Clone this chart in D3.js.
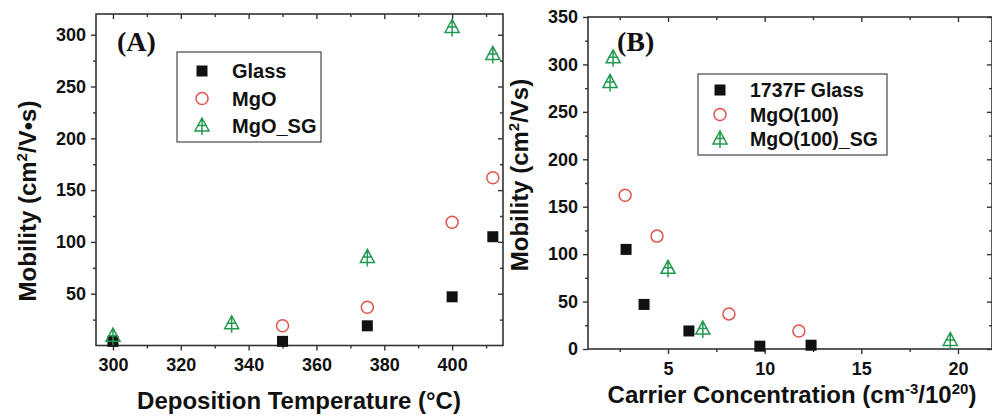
<!DOCTYPE html>
<html><head><meta charset="utf-8">
<script src="https://cdn.jsdelivr.net/npm/d3@7"></script>
<style>
body{margin:0;background:#fff;}
svg{display:block;font-family:"Liberation Sans",Arial,sans-serif;font-weight:bold;}
</style></head>
<body><svg id="c" width="992" height="416"></svg>
<script>
// ---- Panel A data: Deposition temperature (°C) vs mobility
const tempGlass = [300, 350, 375, 400, 412];
const mobGlassA = [4, 4, 19, 47, 105];
const tempMgO = [350, 375, 400, 412];
const mobMgOA = [19, 37, 119, 162];
const tempSG = [300, 335, 375, 400, 412];
const mobSGA = [9, 21, 85, 307, 281];
const legendA = ["Glass", "MgO", "MgO_SG"];
const xTicksA = [300, 320, 340, 360, 380, 400];
const xMinorA = [310, 330, 350, 370, 390, 410];
const yTicksA = [50, 100, 150, 200, 250, 300];
const yMinorA = [25, 75, 125, 175, 225, 275];

// ---- Panel B data: Carrier concentration (cm^-3/1e20) vs mobility
const ccGlass = [2.83, 3.76, 6.08, 9.75, 12.4];
const mobGlassB = [105, 47, 19, 3, 4];
const ccMgO = [2.78, 4.43, 8.15, 11.77];
const mobMgOB = [162, 119, 37, 19];
const ccSG = [2.0, 2.16, 5.0, 6.8, 19.6];
const mobSGB = [281, 307, 85, 21, 9];
const legendB = ["1737F Glass", "MgO(100)", "MgO(100)_SG"];
const xTicksB = [5, 10, 15, 20];
const xMinorB = [2.5, 7.5, 12.5, 17.5];
const yTicksB = [0, 50, 100, 150, 200, 250, 300, 350];
const yMinorB = [25, 75, 125, 175, 225, 275, 325];

const RED = "#e0544c", GREEN = "#23994f", AXIS = "#333";
const svg = d3.select("#c");

function triPath(){ return "M0,-8L7,5L-7,5Z M0,-8L0,9 M-5,-0.5L5,-0.5"; }

function marker(g, type, x, y){
  if(type===0){
    g.append("rect").attr("x",x-5.5).attr("y",y-5.5).attr("width",11).attr("height",11).attr("fill","#111");
  } else if(type===1){
    g.append("circle").attr("cx",x).attr("cy",y).attr("r",6).attr("fill","none").attr("stroke",RED).attr("stroke-width",1.5);
  } else {
    g.append("path").attr("d",triPath()).attr("transform",`translate(${x},${y})`).attr("fill","none").attr("stroke",GREEN).attr("stroke-width",1.5);
  }
}

function addParts(t, parts){
  parts.forEach(p=>{
    const ts = t.append("tspan").text(p[0]);
    if(p[1]) ts.attr("dy", p[1]);
    ts.attr("font-size", p[2] ? 15 : 24);
  });
}

function panel(o){
  const x = d3.scaleLinear().domain(o.xd).range(o.xr);
  const y = d3.scaleLinear().domain(o.yd).range(o.yr);
  const g = svg.append("g");
  const [x0,x1] = o.xr, [y0,y1] = o.yr;
  g.append("rect").attr("x",x0).attr("y",y1).attr("width",x1-x0).attr("height",y0-y1)
    .attr("fill","none").attr("stroke",AXIS).attr("stroke-width",1.6);
  const styleAx = s => { s.select(".domain").remove(); s.selectAll("line").attr("stroke",AXIS).attr("stroke-width",1.4); s.selectAll("text").attr("font-size",18).attr("font-weight","bold").attr("fill","#111").attr("font-family","Liberation Sans, Arial, sans-serif"); };
  g.append("g").attr("transform",`translate(0,${y0})`).call(d3.axisBottom(x).tickValues(o.xt).tickSize(5).tickPadding(8).tickFormat(d3.format("d"))).call(styleAx);
  g.append("g").attr("transform",`translate(0,${y0})`).call(d3.axisBottom(x).tickValues(o.xm).tickSize(3).tickFormat("")).call(styleAx);
  g.append("g").attr("transform",`translate(0,${y1})`).call(d3.axisBottom(x).tickValues(o.xt).tickSize(5).tickFormat("")).call(styleAx);
  g.append("g").attr("transform",`translate(0,${y1})`).call(d3.axisBottom(x).tickValues(o.xm).tickSize(3).tickFormat("")).call(styleAx);
  g.append("g").attr("transform",`translate(${x0},0)`).call(d3.axisLeft(y).tickValues(o.yt).tickSize(5).tickPadding(5).tickFormat(d3.format("d"))).call(styleAx);
  g.append("g").attr("transform",`translate(${x0},0)`).call(d3.axisLeft(y).tickValues(o.ym).tickSize(3).tickFormat("")).call(styleAx);
  g.append("g").attr("transform",`translate(${x1},0)`).call(d3.axisLeft(y).tickValues(o.yt).tickSize(5).tickFormat("")).call(styleAx);
  g.append("g").attr("transform",`translate(${x1},0)`).call(d3.axisLeft(y).tickValues(o.ym).tickSize(3).tickFormat("")).call(styleAx);
  const dg = g.append("g");
  o.series.forEach((s,i)=> s.xs.forEach((xv,j)=> marker(dg, i, x(xv), y(s.ys[j]))));
  g.append("text").attr("x",o.lab[0]).attr("y",o.lab[1]).text(o.labText)
    .attr("font-family","Liberation Serif, Times New Roman, serif").attr("font-weight","bold").attr("font-size",28).attr("fill","#111");
  const L = o.leg;
  g.append("rect").attr("x",L.x).attr("y",L.y).attr("width",L.w).attr("height",L.h)
    .attr("fill","#fff").attr("stroke","#555").attr("stroke-width",1.3);
  o.legNames.forEach((n,i)=>{
    const cy = L.y + L.first + i*L.step;
    marker(g, i, L.x + L.sx, cy);
    g.append("text").attr("x",L.x+L.tx).attr("y",cy+7).text(n).attr("font-size",L.fs).attr("font-weight","bold").attr("fill","#111");
  });
  g.append("text").attr("x",o.xTitle[0]).attr("y",o.xTitle[1]).attr("text-anchor","middle").attr("font-size",24).attr("fill","#111").attr("font-weight","bold")
    .call(t=>addParts(t,o.xTitleParts));
  g.append("text").attr("transform",`translate(${o.yTitle[0]},${o.yTitle[1]}) rotate(-90)`).attr("text-anchor","middle").attr("font-size",24).attr("fill","#111").attr("font-weight","bold")
    .call(t=>addParts(t,o.yTitleParts));
}

panel({
  xd:[295,415], xr:[96,503], yd:[0,320], yr:[345.5,14],
  xt:xTicksA, xm:xMinorA, yt:yTicksA, ym:yMinorA,
  series:[{xs:tempGlass,ys:mobGlassA},{xs:tempMgO,ys:mobMgOA},{xs:tempSG,ys:mobSGA}],
  lab:[117,51], labText:"(A)",
  leg:{x:177,y:52,w:144,h:90,first:19,step:27.5,sx:25,tx:55,fs:20},
  legNames:legendA,
  xTitle:[299,409], xTitleParts:[["Deposition Temperature (°C)"]],
  yTitle:[36,201], yTitleParts:[["Mobility (cm"],["2",-9,true],["/V•s)",9]]
});

panel({
  xd:[0.86,21.76], xr:[588,992], yd:[0,350], yr:[349,17],
  xt:xTicksB, xm:xMinorB, yt:yTicksB, ym:yMinorB,
  series:[{xs:ccGlass,ys:mobGlassB},{xs:ccMgO,ys:mobMgOB},{xs:ccSG,ys:mobSGB}],
  lab:[617,51], labText:"(B)",
  leg:{x:698,y:74,w:189,h:81,first:16,step:24.5,sx:22,tx:52,fs:19.5},
  legNames:legendB,
  xTitle:[792,403], xTitleParts:[["Carrier Concentration (cm"],["-3",-9,true],["/10",9],["20",-9,true],[")",9]],
  yTitle:[528,175], yTitleParts:[["Mobility (cm"],["2",-9,true],["/Vs)",9]]
});
</script></body></html>
